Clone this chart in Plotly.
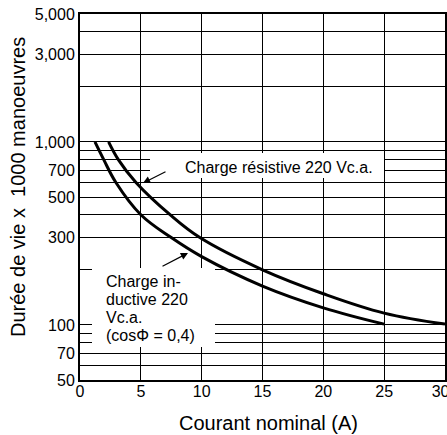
import math
import plotly.graph_objects as go

# ---- data ----
res_x = [2.35, 3.15, 4.6, 7.4, 9.85, 15, 20, 25, 30]
res_y = [1000, 800, 600, 400, 300, 200, 148, 116, 101]
ind_x = [1.23, 1.95, 2.95, 5.0, 7.5, 10, 15, 20, 25]
ind_y = [1000, 800, 600, 400, 300, 236, 163, 124, 101]

y_grid = [50, 60, 70, 80, 90, 100, 200, 300, 400, 500, 600, 700, 800, 900,
          1000, 2000, 3000, 4000, 5000]
y_labels = {50: "50", 70: "70", 100: "100", 300: "300", 500: "500", 700: "700",
            1000: "1,000", 3000: "3,000", 5000: "5,000"}
x_ticks = [0, 5, 10, 15, 20, 25, 30]
x_labels = ["0", "5", "10", "15", "20", "25", "30\u00a0\u00a0"]

res_label = "Charge résistive 220 Vc.a."
ind_label = ["Charge in-", "ductive 220", "Vc.a.", "(cosΦ = 0,4)"]
x_title = "Courant nominal (A)"
y_title = "Durée de vie x\u00a0 1000 manoeuvres"

# ---- layout geometry (reference pixels) ----
W, H = 447, 435
L, T = 80, 14
PW, PH = 365, 366
R, B = W - L - PW, H - T - PH
YMIN, YMAX = math.log10(50), math.log10(5000)


def px(X):
    return (X - L) / PW


def py(Y):
    return (H - B - Y) / PH


FONT = "Liberation Sans, Arial, Helvetica, sans-serif"

fig = go.Figure()
fig.add_trace(go.Scatter(x=res_x, y=res_y, mode="lines",
                         line=dict(color="black", width=3, shape="spline", smoothing=1.1),
                         showlegend=False, hoverinfo="skip"))
fig.add_trace(go.Scatter(x=ind_x, y=ind_y, mode="lines",
                         line=dict(color="black", width=3, shape="spline", smoothing=1.1),
                         showlegend=False, hoverinfo="skip"))

# white boxes hiding the grid under the labels
fig.add_shape(type="rect", xref="paper", yref="paper",
              x0=px(150), x1=px(384), y0=py(178), y1=py(153),
              fillcolor="white", line_width=0, layer="above")
fig.add_shape(type="rect", xref="paper", yref="paper",
              x0=px(92), x1=px(215), y0=py(347), y1=py(268),
              fillcolor="white", line_width=0, layer="above")

ann = []
ann.append(dict(text=res_label, xref="paper", yref="paper", x=px(278.5), y=py(167),
                xanchor="center", yanchor="middle", showarrow=False,
                font=dict(size=16, color="black", family=FONT)))
for i, t in enumerate(ind_label):
    ann.append(dict(text=t, xref="paper", yref="paper", x=px(104), y=py(281 + 18 * i),
                    xanchor="left", yanchor="middle", showarrow=False,
                    font=dict(size=16, color="black", family=FONT)))
# arrows
ann.append(dict(text="", xref="paper", yref="paper", x=px(143), y=py(183),
                ax=24, ay=-12, showarrow=True, arrowhead=2, arrowsize=1.2,
                arrowwidth=1.2, arrowcolor="black", standoff=0))
ann.append(dict(text="", xref="paper", yref="paper", x=px(188), y=py(253),
                ax=-27, ay=14, showarrow=True, arrowhead=2, arrowsize=1.2,
                arrowwidth=1.2, arrowcolor="black", standoff=0))
# axis titles
ann.append(dict(text=x_title, xref="paper", yref="paper", x=px(268), y=py(423),
                xanchor="center", yanchor="middle", showarrow=False,
                font=dict(size=20, color="black", family=FONT)))
ann.append(dict(text=y_title, xref="paper", yref="paper", x=px(18), y=py(187),
                xanchor="center", yanchor="middle", showarrow=False, textangle=-90,
                font=dict(size=20, color="black", family=FONT)))

fig.update_layout(
    width=W, height=H,
    margin=dict(l=L, r=R, t=T, b=B, pad=0, autoexpand=False),
    paper_bgcolor="white", plot_bgcolor="white",
    font=dict(family=FONT, size=16, color="black"),
    annotations=ann,
)
fig.update_xaxes(range=[0, 30], tickvals=x_ticks, ticktext=x_labels,
                 showgrid=True, gridcolor="black", gridwidth=1.3, zeroline=False,
                 showline=True, linecolor="black", linewidth=2, mirror=True,
                 ticks="", ticklabelstandoff=-4, ticklabeloverflow="allow",
                 automargin=False,
                 tickfont=dict(size=16, color="black", family=FONT))
fig.update_yaxes(type="log", range=[YMIN, YMAX],
                 tickvals=y_grid, ticktext=[y_labels.get(v, "") for v in y_grid],
                 showgrid=True, gridcolor="black", gridwidth=1.3, zeroline=False,
                 showline=True, linecolor="black", linewidth=2, mirror=True,
                 ticks="", ticklabeloverflow="allow", automargin=False,
                 tickfont=dict(size=16, color="black", family=FONT))

fig.write_html("out.html",
               config={"displayModeBar": False},
               post_script="document.body.style.margin='0';"
                           "document.body.style.overflow='hidden';")
